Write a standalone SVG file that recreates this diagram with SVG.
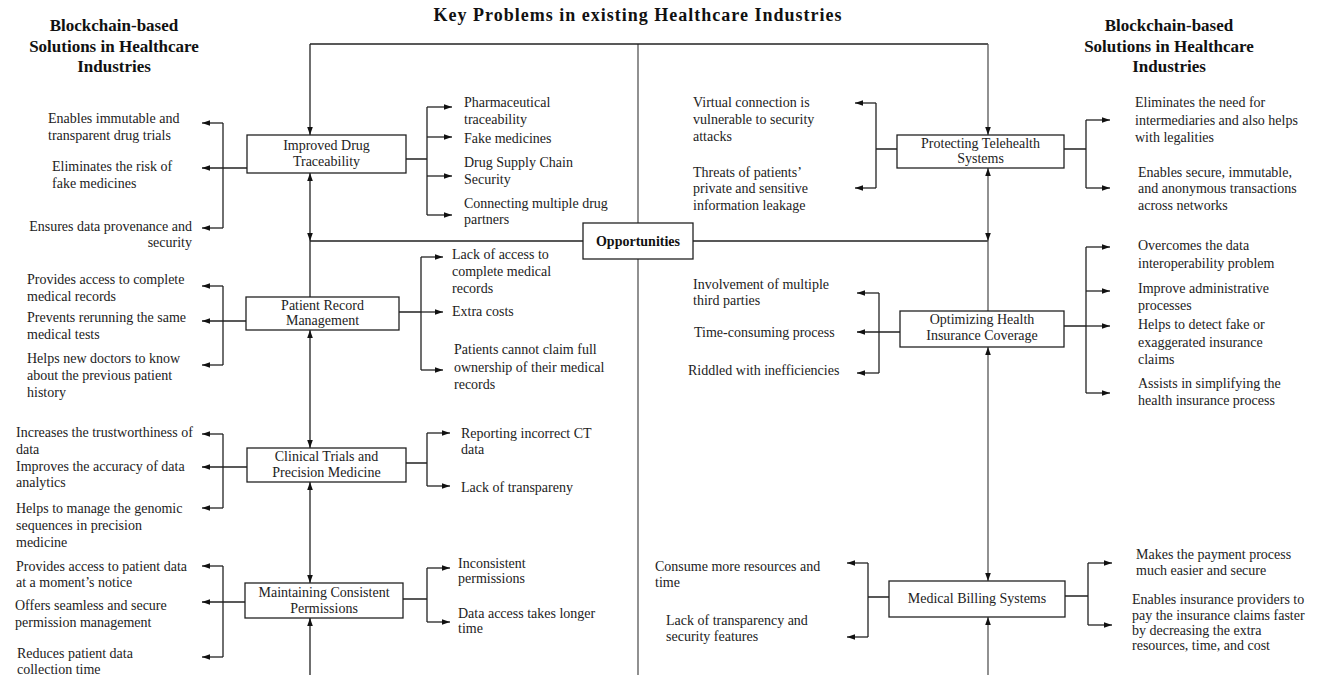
<svg xmlns="http://www.w3.org/2000/svg" width="1321" height="675" viewBox="0 0 1321 675">
<defs>
<marker id="ah" viewBox="0 0 10 10" refX="10" refY="5" markerWidth="8" markerHeight="8" markerUnits="userSpaceOnUse" orient="auto"><path d="M0,1.5 L10,5 L0,8.5 z" fill="#111"/></marker>
<style>
.t{font-family:"Liberation Serif","Times New Roman",serif;font-size:14px;fill:#222}
.b{font-family:"Liberation Serif","Times New Roman",serif;font-size:14px;fill:#222;text-anchor:middle}
.h{font-family:"Liberation Serif","Times New Roman",serif;font-size:17px;font-weight:bold;fill:#111;text-anchor:middle}
.box{fill:#fff;stroke:#222;stroke-width:1.3}
.c path{fill:none;stroke:#222;stroke-width:1.3}
.c .g{stroke:#555}
.a{marker-end:url(#ah)}
</style>
</defs>
<rect width="1321" height="675" fill="#fff"/>

<g id="headers">
<text class="h" x="638" y="21" style="font-size:18px;letter-spacing:1px">Key Problems in existing Healthcare Industries</text>
<text class="h" x="114" y="31">Blockchain-based</text>
<text class="h" x="114" y="52">Solutions in Healthcare</text>
<text class="h" x="114" y="72">Industries</text>
<text class="h" x="1169" y="31">Blockchain-based</text>
<text class="h" x="1169" y="52">Solutions in Healthcare</text>
<text class="h" x="1169" y="72">Industries</text>
</g>

<g id="connectors" class="c">
<path class="g" d="M638,44 V675"/>
<path d="M310,44 H988"/>
<path class="a" d="M310,44 V135"/>
<path class="a g" d="M988,44 V135"/>
<path d="M310,241 H583 M693,241 H988"/>
<path class="a" d="M310,200 V173"/>
<path class="a" d="M310,200 V241"/>
<path d="M310,241 V297"/>
<path class="a" d="M310,390 V330"/>
<path class="a" d="M310,390 V448"/>
<path class="a" d="M310,530 V482"/>
<path class="a" d="M310,530 V583"/>
<path class="a" d="M310,675 V618"/>
<path class="a g" d="M988,200 V168"/>
<path class="a g" d="M988,200 V241"/>
<path class="g" d="M988,241 V311"/>
<path class="a g" d="M988,460 V347"/>
<path class="a g" d="M988,460 V581"/>
<path class="a g" d="M988,675 V617"/>

<path d="M223,123 V228"/>
<path class="a" d="M223,123 H202"/>
<path class="a" d="M247,168 H202"/>
<path class="a" d="M223,228 H202"/>
<path d="M406,159 H427 M427,107 V215"/>
<path class="a" d="M427,107 H452"/>
<path class="a" d="M427,137 H452"/>
<path class="a" d="M427,176 H452"/>
<path class="a" d="M427,215 H452"/>

<path d="M223,286 V365"/>
<path class="a" d="M223,286 H202"/>
<path class="a" d="M246,321 H202"/>
<path class="a" d="M223,365 H202"/>
<path d="M399,312 H421 M421,257 V370"/>
<path class="a" d="M421,257 H443"/>
<path class="a" d="M421,312 H443"/>
<path class="a" d="M421,370 H443"/>

<path d="M223,434 V508"/>
<path class="a" d="M223,434 H202"/>
<path class="a" d="M247,467 H202"/>
<path class="a" d="M223,508 H202"/>
<path d="M406,463 H427 M427,433 V486"/>
<path class="a" d="M427,433 H450"/>
<path class="a" d="M427,486 H450"/>

<path d="M223,566 V657"/>
<path class="a" d="M223,566 H202"/>
<path class="a" d="M245,602 H202"/>
<path class="a" d="M223,657 H202"/>
<path d="M403,599 H427 M427,568 V622"/>
<path class="a" d="M427,568 H450"/>
<path class="a" d="M427,622 H450"/>

<path d="M897,149 H876 M876,103 V188"/>
<path class="a" d="M876,103 H855"/>
<path class="a" d="M876,188 H855"/>
<path d="M1064,149 H1086 M1086,120 V188"/>
<path class="a" d="M1086,120 H1110"/>
<path class="a" d="M1086,188 H1110"/>

<path d="M879,293 V373"/>
<path class="a" d="M879,293 H857"/>
<path class="a" d="M900,332 H857"/>
<path class="a" d="M879,373 H857"/>
<path d="M1064,326 H1086 M1086,247 V393"/>
<path class="a" d="M1086,247 H1110"/>
<path class="a" d="M1086,291 H1110"/>
<path class="a" d="M1086,326 H1110"/>
<path class="a" d="M1086,393 H1110"/>

<path d="M889,597 H868 M868,563 V637"/>
<path class="a" d="M868,563 H847"/>
<path class="a" d="M868,637 H847"/>
<path d="M1065,596 H1088 M1088,563 V625"/>
<path class="a" d="M1088,563 H1112"/>
<path class="a" d="M1088,625 H1112"/>
</g>

<g id="opportunities">
<rect class="box" x="583" y="223" width="110" height="36"/>
<text class="h" x="638" y="246" style="font-size:14px">Opportunities</text>
</g>

<g id="improved-drug">
<rect class="box" x="247" y="135" width="159" height="38"/>
<text class="b" x="326.5" y="150">Improved Drug</text>
<text class="b" x="326.5" y="166">Traceability</text>
<text class="t" x="48" y="123">Enables immutable and</text>
<text class="t" x="48" y="140">transparent drug trials</text>
<text class="t" x="52" y="171">Eliminates the risk of</text>
<text class="t" x="52" y="188">fake medicines</text>
<text class="t" x="192" y="231" text-anchor="end">Ensures data provenance and</text>
<text class="t" x="192" y="247" text-anchor="end">security</text>
<text class="t" x="464" y="107">Pharmaceutical</text>
<text class="t" x="464" y="124">traceability</text>
<text class="t" x="464" y="143">Fake medicines</text>
<text class="t" x="464" y="167">Drug Supply Chain</text>
<text class="t" x="464" y="184">Security</text>
<text class="t" x="464" y="208">Connecting multiple drug</text>
<text class="t" x="464" y="224">partners</text>
</g>

<g id="patient-record">
<rect class="box" x="246" y="297" width="153" height="33"/>
<text class="b" x="322.5" y="310">Patient Record</text>
<text class="b" x="322.5" y="325">Management</text>
<text class="t" x="27" y="284">Provides access to complete</text>
<text class="t" x="27" y="301">medical records</text>
<text class="t" x="27" y="322">Prevents rerunning the same</text>
<text class="t" x="27" y="339">medical tests</text>
<text class="t" x="27" y="363">Helps new doctors to know</text>
<text class="t" x="27" y="380">about the previous patient</text>
<text class="t" x="27" y="397">history</text>
<text class="t" x="452" y="259">Lack of access to</text>
<text class="t" x="452" y="276">complete medical</text>
<text class="t" x="452" y="293">records</text>
<text class="t" x="452" y="316">Extra costs</text>
<text class="t" x="454" y="354">Patients cannot claim full</text>
<text class="t" x="454" y="372">ownership of their medical</text>
<text class="t" x="454" y="389">records</text>
</g>

<g id="clinical-trials">
<rect class="box" x="247" y="448" width="159" height="34"/>
<text class="b" x="326.5" y="461">Clinical Trials and</text>
<text class="b" x="326.5" y="477">Precision Medicine</text>
<text class="t" x="16" y="437">Increases the trustworthiness of</text>
<text class="t" x="16" y="454">data</text>
<text class="t" x="16" y="471">Improves the accuracy of data</text>
<text class="t" x="16" y="487">analytics</text>
<text class="t" x="16" y="513">Helps to manage the genomic</text>
<text class="t" x="16" y="530">sequences in precision</text>
<text class="t" x="16" y="547">medicine</text>
<text class="t" x="461" y="438">Reporting incorrect CT</text>
<text class="t" x="461" y="454">data</text>
<text class="t" x="461" y="492">Lack of transpareny</text>
</g>

<g id="maintaining-permissions">
<rect class="box" x="245" y="583" width="158" height="35"/>
<text class="b" x="324" y="597">Maintaining Consistent</text>
<text class="b" x="324" y="613">Permissions</text>
<text class="t" x="16" y="571">Provides access to patient data</text>
<text class="t" x="16" y="587">at a moment’s notice</text>
<text class="t" x="15" y="610">Offers seamless and secure</text>
<text class="t" x="15" y="627">permission management</text>
<text class="t" x="17" y="658">Reduces patient data</text>
<text class="t" x="17" y="674">collection time</text>
<text class="t" x="458" y="568">Inconsistent</text>
<text class="t" x="458" y="583">permissions</text>
<text class="t" x="458" y="618">Data access takes longer</text>
<text class="t" x="458" y="633">time</text>
</g>

<g id="protecting-telehealth">
<rect class="box" x="897" y="135" width="167" height="33"/>
<text class="b" x="980.5" y="148">Protecting Telehealth</text>
<text class="b" x="980.5" y="163">Systems</text>
<text class="t" x="693" y="107">Virtual connection is</text>
<text class="t" x="693" y="124">vulnerable to security</text>
<text class="t" x="693" y="141">attacks</text>
<text class="t" x="693" y="177">Threats of patients’</text>
<text class="t" x="693" y="193">private and sensitive</text>
<text class="t" x="693" y="210">information leakage</text>
<text class="t" x="1135" y="107">Eliminates the need for</text>
<text class="t" x="1135" y="125">intermediaries and also helps</text>
<text class="t" x="1135" y="142">with legalities</text>
<text class="t" x="1138" y="177">Enables secure, immutable,</text>
<text class="t" x="1138" y="193">and anonymous transactions</text>
<text class="t" x="1138" y="210">across networks</text>
</g>

<g id="optimizing-insurance">
<rect class="box" x="900" y="311" width="164" height="36"/>
<text class="b" x="982" y="324">Optimizing Health</text>
<text class="b" x="982" y="340">Insurance Coverage</text>
<text class="t" x="693" y="289">Involvement of multiple</text>
<text class="t" x="693" y="305">third parties</text>
<text class="t" x="694" y="337">Time-consuming process</text>
<text class="t" x="688" y="375">Riddled with inefficiencies</text>
<text class="t" x="1138" y="250">Overcomes the data</text>
<text class="t" x="1138" y="268">interoperability problem</text>
<text class="t" x="1138" y="293">Improve administrative</text>
<text class="t" x="1138" y="310">processes</text>
<text class="t" x="1138" y="329">Helps to detect fake or</text>
<text class="t" x="1138" y="347">exaggerated insurance</text>
<text class="t" x="1138" y="364">claims</text>
<text class="t" x="1138" y="388">Assists in simplifying the</text>
<text class="t" x="1138" y="405">health insurance process</text>
</g>

<g id="medical-billing">
<rect class="box" x="889" y="581" width="176" height="36"/>
<text class="b" x="977" y="603">Medical Billing Systems</text>
<text class="t" x="655" y="571">Consume more resources and</text>
<text class="t" x="655" y="587">time</text>
<text class="t" x="666" y="625">Lack of transparency and</text>
<text class="t" x="666" y="641">security features</text>
<text class="t" x="1136" y="559">Makes the payment process</text>
<text class="t" x="1136" y="575">much easier and secure</text>
<text class="t" x="1132" y="604">Enables insurance providers to</text>
<text class="t" x="1132" y="620">pay the insurance claims faster</text>
<text class="t" x="1132" y="635">by decreasing the extra</text>
<text class="t" x="1132" y="650">resources, time, and cost</text>
</g>
</svg>
